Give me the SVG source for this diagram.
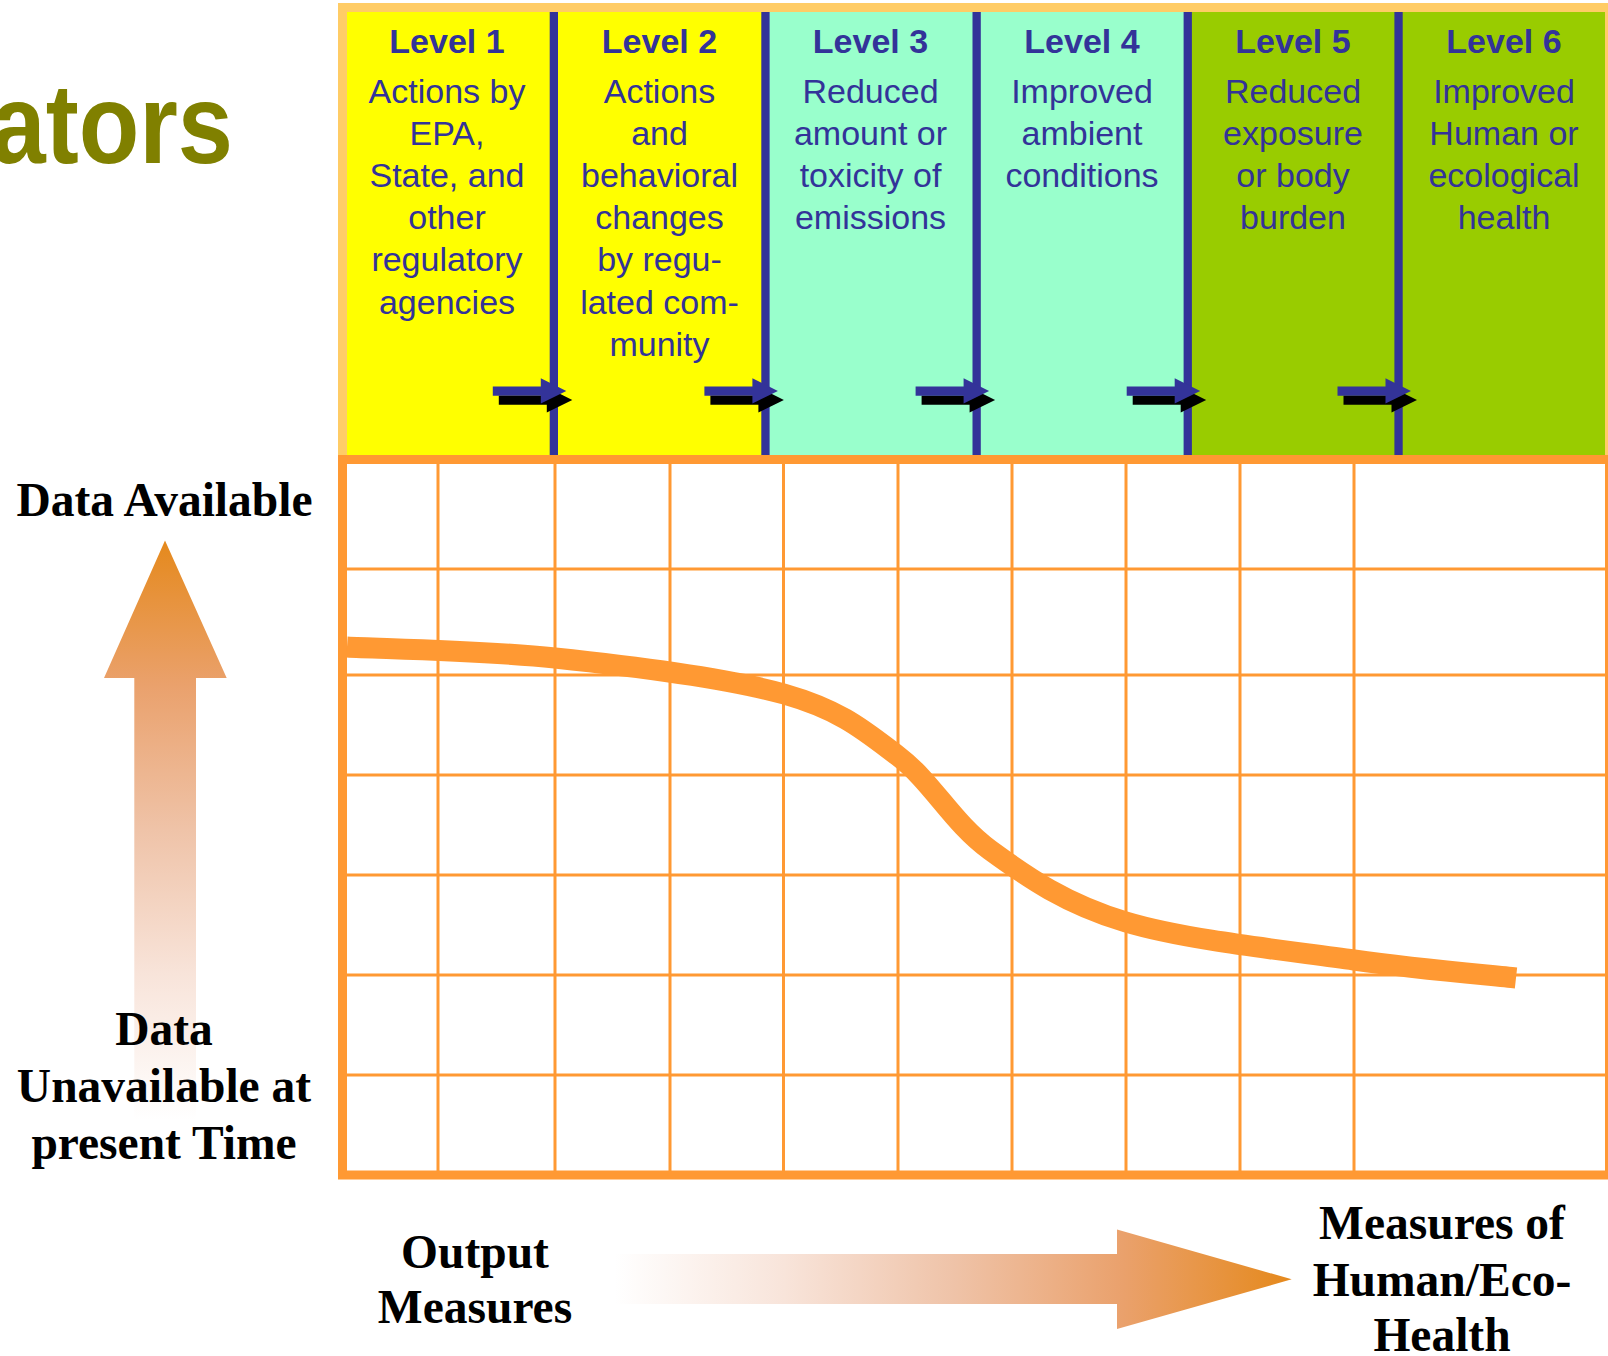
<svg xmlns="http://www.w3.org/2000/svg" width="1608" height="1356" viewBox="0 0 1608 1356">
  <defs>
    <style>
      .lvl { font-family: "Liberation Sans", Arial, sans-serif; font-size: 34px; font-weight: bold; fill: #333399; text-anchor: middle; }
      .body { font-family: "Liberation Sans", Arial, sans-serif; font-size: 34px; fill: #333399; text-anchor: middle; }
      .lab { font-family: "Liberation Serif", "Times New Roman", serif; font-size: 47.5px; font-weight: bold; fill: #000000; text-anchor: middle; }
      .grid { stroke: #FF9933; stroke-width: 3; fill: none; }
      .div { fill: #333399; }
    </style>
    <path id="sarrow" d="M -61 386.5 L -13 386.5 L -13 378.3 L 12.5 391 L -13 403.5 L -13 395.7 L -61 395.7 Z"/>
    <linearGradient id="gUp" gradientUnits="userSpaceOnUse" x1="0" y1="540" x2="0" y2="1120">
      <stop offset="0" stop-color="#E5891C"/>
      <stop offset="0.25" stop-color="#EAA16C"/>
      <stop offset="0.5" stop-color="#EFC3A8"/>
      <stop offset="0.75" stop-color="#F8E4DA"/>
      <stop offset="1" stop-color="#FFFFFF"/>
    </linearGradient>
    <linearGradient id="gRight" gradientUnits="userSpaceOnUse" x1="615" y1="0" x2="1292" y2="0">
      <stop offset="0" stop-color="#FFFFFF"/>
      <stop offset="0.25" stop-color="#F8E4DA"/>
      <stop offset="0.5" stop-color="#EFC3A8"/>
      <stop offset="0.75" stop-color="#EAA16C"/>
      <stop offset="1" stop-color="#E5891C"/>
    </linearGradient>
  </defs>

  <rect x="0" y="0" width="1608" height="1356" fill="#FFFFFF"/>

  <g id="title">
    <text transform="translate(233,163) scale(0.87,1)" x="0" y="0" font-family="'Liberation Sans', Arial, sans-serif" font-size="114" font-weight="bold" fill="#808000" text-anchor="end">ators</text>
  </g>

  <g id="header">
    <rect x="347" y="12" width="418" height="443" fill="#FFFF00"/>
    <rect x="765" y="12" width="423" height="443" fill="#99FFCC"/>
    <rect x="1188" y="12" width="417" height="443" fill="#99CC00"/>
    <rect x="342.5" y="7.5" width="1267" height="452" fill="none" stroke="#FFCC66" stroke-width="9"/>
    <rect class="div" x="549.7" y="12" width="8.3" height="443"/>
    <rect class="div" x="761.3" y="12" width="8.3" height="443"/>
    <rect class="div" x="972.5" y="12" width="8.3" height="443"/>
    <rect class="div" x="1183.6" y="12" width="8.3" height="443"/>
    <rect class="div" x="1394.4" y="12" width="8.3" height="443"/>
  </g>

  <g id="level1">
    <text class="lvl" x="447" y="53">Level 1</text>
    <text class="body" x="447" y="102.5">Actions by</text>
    <text class="body" x="447" y="144.7">EPA,</text>
    <text class="body" x="447" y="186.9">State, and</text>
    <text class="body" x="447" y="229.1">other</text>
    <text class="body" x="447" y="271.3">regulatory</text>
    <text class="body" x="447" y="313.5">agencies</text>
  </g>
  <g id="level2">
    <text class="lvl" x="659.5" y="53">Level 2</text>
    <text class="body" x="659.5" y="102.5">Actions</text>
    <text class="body" x="659.5" y="144.7">and</text>
    <text class="body" x="659.5" y="186.9">behavioral</text>
    <text class="body" x="659.5" y="229.1">changes</text>
    <text class="body" x="659.5" y="271.3">by regu-</text>
    <text class="body" x="659.5" y="313.5">lated com-</text>
    <text class="body" x="659.5" y="355.7">munity</text>
  </g>
  <g id="level3">
    <text class="lvl" x="870.5" y="53">Level 3</text>
    <text class="body" x="870.5" y="102.5">Reduced</text>
    <text class="body" x="870.5" y="144.7">amount or</text>
    <text class="body" x="870.5" y="186.9">toxicity of</text>
    <text class="body" x="870.5" y="229.1">emissions</text>
  </g>
  <g id="level4">
    <text class="lvl" x="1082" y="53">Level 4</text>
    <text class="body" x="1082" y="102.5">Improved</text>
    <text class="body" x="1082" y="144.7">ambient</text>
    <text class="body" x="1082" y="186.9">conditions</text>
  </g>
  <g id="level5">
    <text class="lvl" x="1293" y="53">Level 5</text>
    <text class="body" x="1293" y="102.5">Reduced</text>
    <text class="body" x="1293" y="144.7">exposure</text>
    <text class="body" x="1293" y="186.9">or body</text>
    <text class="body" x="1293" y="229.1">burden</text>
  </g>
  <g id="level6">
    <text class="lvl" x="1504" y="53">Level 6</text>
    <text class="body" x="1504" y="102.5">Improved</text>
    <text class="body" x="1504" y="144.7">Human or</text>
    <text class="body" x="1504" y="186.9">ecological</text>
    <text class="body" x="1504" y="229.1">health</text>
  </g>

  <g id="connectors">
    <use href="#sarrow" transform="translate(559.8,9)" fill="#000000"/>
    <use href="#sarrow" transform="translate(553.8,0)" fill="#333399"/>
    <use href="#sarrow" transform="translate(771.4,9)" fill="#000000"/>
    <use href="#sarrow" transform="translate(765.4,0)" fill="#333399"/>
    <use href="#sarrow" transform="translate(982.6,9)" fill="#000000"/>
    <use href="#sarrow" transform="translate(976.6,0)" fill="#333399"/>
    <use href="#sarrow" transform="translate(1193.7,9)" fill="#000000"/>
    <use href="#sarrow" transform="translate(1187.7,0)" fill="#333399"/>
    <use href="#sarrow" transform="translate(1404.5,9)" fill="#000000"/>
    <use href="#sarrow" transform="translate(1398.5,0)" fill="#333399"/>
  </g>

  <g id="chart">
    <g class="grid">
      <line x1="438" y1="464" x2="438" y2="1171"/>
      <line x1="555" y1="464" x2="555" y2="1171"/>
      <line x1="670" y1="464" x2="670" y2="1171"/>
      <line x1="783.5" y1="464" x2="783.5" y2="1171"/>
      <line x1="898" y1="464" x2="898" y2="1171"/>
      <line x1="1012" y1="464" x2="1012" y2="1171"/>
      <line x1="1126" y1="464" x2="1126" y2="1171"/>
      <line x1="1240" y1="464" x2="1240" y2="1171"/>
      <line x1="1354" y1="464" x2="1354" y2="1171"/>
      <line x1="347" y1="569" x2="1605" y2="569"/>
      <line x1="347" y1="675" x2="1605" y2="675"/>
      <line x1="347" y1="775" x2="1605" y2="775"/>
      <line x1="347" y1="875" x2="1605" y2="875"/>
      <line x1="347" y1="975" x2="1605" y2="975"/>
      <line x1="347" y1="1075" x2="1605" y2="1075"/>
    </g>
    <rect x="342.5" y="459.5" width="1267" height="715.5" fill="none" stroke="#FF9933" stroke-width="9"/>
  </g>

  <g id="curve">
    <path d="M 347 647 C 378.3 648.8 481.5 650.2 555 658 C 628.5 665.8 726.8 677.7 784 694 C 841.2 710.3 863.7 730 898 756 C 932.3 782 952 822.3 990 850 C 1028 877.7 1065.3 903.7 1126 922 C 1186.7 940.3 1289 950.7 1354 960 C 1419 969.3 1489 975 1516 978" fill="none" stroke="#FF9933" stroke-width="21" stroke-linecap="butt"/>
  </g>

  <g id="y-axis">
    <polygon points="165,540.4 226.7,678 196,678 196,1130 134.3,1130 134.3,678 104,678" fill="url(#gUp)"/>
    <text class="lab" x="164.5" y="516">Data Available</text>
    <text class="lab" x="164" y="1045">Data</text>
    <text class="lab" x="164" y="1102">Unavailable at</text>
    <text class="lab" x="164" y="1159">present Time</text>
  </g>

  <g id="x-axis">
    <polygon points="615,1254 1117,1254 1117,1229.5 1291.7,1279.3 1117,1329 1117,1304 615,1304" fill="url(#gRight)"/>
    <text class="lab" x="475" y="1268">Output</text>
    <text class="lab" x="475" y="1323">Measures</text>
    <text class="lab" x="1442" y="1239">Measures of</text>
    <text class="lab" x="1442" y="1295.5">Human/Eco-</text>
    <text class="lab" x="1442" y="1351">Health</text>
  </g>
</svg>
